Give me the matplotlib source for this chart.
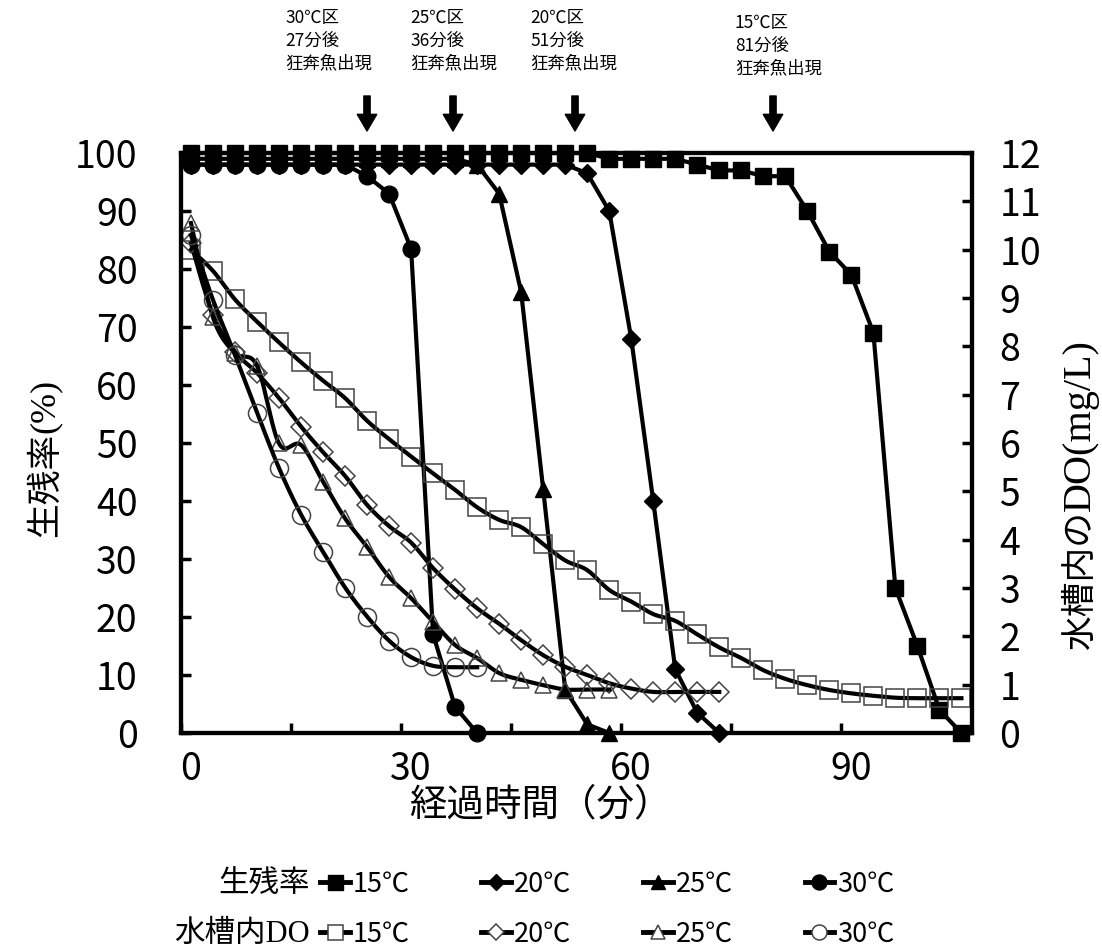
import numpy as np
import matplotlib
matplotlib.use("Agg")
import matplotlib.pyplot as plt
from matplotlib.lines import Line2D

plt.rcParams['font.family'] = ['Noto Sans CJK JP', 'DejaVu Sans']
mixed = ['Liberation Serif', 'Noto Sans CJK JP']

# 経過時間（分）
t15 = [0, 3, 6, 9, 12, 15, 18, 21, 24, 27, 30, 33, 36, 39, 42, 45, 48, 51,
       54, 57, 60, 63, 66, 69, 72, 75, 78, 81, 84, 87, 90, 93, 96, 99, 102, 105]
t20 = [0, 3, 6, 9, 12, 15, 18, 21, 24, 27, 30, 33, 36, 39, 42, 45, 48, 51,
       54, 57, 60, 63, 66, 69, 72]
t25 = [0, 3, 6, 9, 12, 15, 18, 21, 24, 27, 30, 33, 36, 39, 42, 45, 48, 51, 54, 57]
t30 = [0, 3, 6, 9, 12, 15, 18, 21, 24, 27, 30, 33, 36, 39]

# 生残率 (%)
surv15 = [100, 100, 100, 100, 100, 100, 100, 100, 100, 100, 100, 100, 100, 100,
          100, 100, 100, 100, 100, 99, 99, 99, 99, 98, 97, 97, 96, 96, 90, 83,
          79, 69, 25, 15, 4, 0]
surv20 = [98, 98, 98, 98, 98, 98, 98, 98, 98, 98, 98, 98, 98, 98, 98, 98, 98, 98,
          96.5, 90, 68, 40, 11, 3.5, 0]
surv25 = [99, 99, 99, 99, 99, 99, 99, 99, 99, 99, 99, 99, 99, 98, 93, 76, 42, 7.5, 1.5, 0]
surv30 = [98, 98, 98, 98, 98, 98, 98, 98, 96, 93, 83.5, 17, 4.5, 0]

# 水槽内DO (mg/L)
do15 = [10.0, 9.56, 8.97, 8.51, 8.08, 7.67, 7.29, 6.93, 6.46, 6.08, 5.72, 5.37,
        5.03, 4.67, 4.41, 4.26, 3.91, 3.57, 3.37, 2.96, 2.72, 2.46, 2.32, 2.04,
        1.77, 1.55, 1.30, 1.12, 0.99, 0.89, 0.82, 0.77, 0.73, 0.72, 0.72, 0.72]
do20 = [10.13, 8.65, 7.89, 7.45, 6.93, 6.34, 5.81, 5.32, 4.72, 4.28, 3.94, 3.41,
        2.97, 2.58, 2.26, 1.92, 1.61, 1.37, 1.20, 1.03, 0.92, 0.85, 0.85, 0.85, 0.85]
do25 = [10.55, 8.6, 7.86, 7.6, 5.99, 5.96, 5.20, 4.44, 3.85, 3.23, 2.79, 2.30,
        1.82, 1.55, 1.24, 1.10, 0.99, 0.90, 0.90, 0.90]
do30 = [10.30, 8.96, 7.82, 6.63, 5.48, 4.52, 3.75, 3.01, 2.41, 1.91, 1.57, 1.39, 1.36, 1.36]

temps = ['15℃', '20℃', '25℃', '30℃']
notes = [('30℃区', '27分後'), ('25℃区', '36分後'), ('20℃区', '51分後'), ('15℃区', '81分後')]


# Excel風のスムージング（ベジェ曲線）
def smooth(x, y, n=16):
    pts = np.column_stack([x, y]).astype(float)
    P = np.vstack([pts[0], pts, pts[-1]])
    s = np.linspace(0, 1, n, endpoint=False)[:, None]
    out = []
    for i in range(1, len(P) - 2):
        p0, p1, p2, p3 = P[i - 1], P[i], P[i + 1], P[i + 2]
        c1 = p1 + (p2 - p0) / 6
        c2 = p2 - (p3 - p1) / 6
        out.append((1 - s) ** 3 * p1 + 3 * (1 - s) ** 2 * s * c1
                   + 3 * (1 - s) * s ** 2 * c2 + s ** 3 * p2)
    out.append(pts[-1:])
    return np.vstack(out)


fig = plt.figure(figsize=(11.02, 9.51), dpi=100)
ax = fig.add_axes([180.7 / 1102, 1 - 733 / 951, 791 / 1102, 580 / 951])
ax2 = ax.twinx()

markers = ['s', 'D', '^', 'o']
msize = [12, 9, 11, 12]

surv_handles = []
for t, v, m, ms in zip([t15, t20, t25, t30], [surv15, surv20, surv25, surv30], markers, msize):
    ax.plot(t, v, color='black', lw=3, marker=m, ms=ms, mfc='black', mec='black', clip_on=False)
    surv_handles.append(Line2D([], [], color='black', lw=3.5, marker=m, ms=ms * 0.9, mfc='black', mec='black'))

do_handles = []
for t, v, m, ms in zip([t15, t20, t25, t30], [do15, do20, do25, do30], markers, msize):
    c = smooth(t, v)
    ax2.plot(c[:, 0], c[:, 1], color='black', lw=3)
    ax2.plot(t, v, ls='none', marker=m, ms=ms + 1, mfc='none', mec='#444444', mew=1.1)
    do_handles.append(Line2D([], [], color='black', lw=3.5, marker=m, ms=ms * 0.9,
                             mfc='white', mec='#444444', mew=1.1))

ax.set_xlim(-1.4, 106.4)
ax.set_ylim(0, 100)
ax2.set_ylim(0, 12)

ax.set_xticks([-1.4, 13.6, 28.6, 43.6, 58.6, 73.6, 88.6])
ax.set_xticklabels([])
ax.set_xticks([0, 30, 60, 90], minor=True)
ax.set_xticklabels(['0', '30', '60', '90'], minor=True)
ax.tick_params(axis='x', which='minor', length=0, pad=12, labelsize=27)
ax.tick_params(axis='x', which='major', direction='in', length=7, width=2.5)

ax.set_yticks(range(0, 101, 10))
ax.tick_params(axis='y', direction='in', length=7, width=2.5, pad=31, labelsize=27)
ax2.set_yticks(range(0, 13))
ax2.tick_params(axis='y', direction='in', length=7, width=2.5, pad=20, labelsize=27)

for a in (ax, ax2):
    for sp in a.spines.values():
        sp.set_linewidth(3)

# 軸ラベル
fig.text(540 / 1102, 1 - 805 / 951, '経過時間（分）', ha='center', va='center', fontsize=27)

yl1 = fig.text(45 / 1102, 1 - 537 / 951, '生残率', ha='center', va='bottom', rotation=90, fontsize=25)
ax.annotate('(%)', xy=(0.5, 1), xycoords=yl1, ha='center', va='bottom', rotation=90,
            fontsize=26, family=mixed, annotation_clip=False)
yl2 = fig.text(1080 / 1102, 1 - 650 / 951, '水槽内の', ha='center', va='bottom', rotation=90, fontsize=25)
ax.annotate('DO(mg/L)', xy=(0.5, 1), xycoords=yl2, ha='center', va='bottom', rotation=90,
            fontsize=29, family=mixed, annotation_clip=False)

# 狂奔魚出現の注記と矢印
note_x = [285, 410, 530, 735]
note_dy = [0, 0, 0, 5]
arrow_x = [367, 453, 575, 773]
for (a, b), nx, dy, axx in zip(notes, note_x, note_dy, arrow_x):
    for line, yy in zip([a, b, '狂奔魚出現'], [18, 41, 63]):
        fig.text(nx / 1102, 1 - (yy + dy) / 951, line, ha='left', va='center', fontsize=12.5)
    ax.annotate('', xy=(axx / 1102, 1 - 131 / 951), xytext=(axx / 1102, 1 - 96 / 951),
                xycoords='figure fraction', textcoords='figure fraction',
                arrowprops=dict(facecolor='black', edgecolor='black', width=4.5,
                                headwidth=14, headlength=12, shrink=0))

# 凡例
fig.text(310 / 1102, 1 - 884 / 951, '生残率', ha='right', va='center', fontsize=22)
fig.text(310 / 1102, 1 - 934 / 951, '水槽内DO', ha='right', va='center', fontsize=22, family=mixed)
fig.legend(surv_handles, temps, ncol=4, loc='center left', bbox_to_anchor=(320 / 1102, 1 - 884 / 951),
           frameon=False, fontsize=19.5, handlelength=1.1, handletextpad=0.1, columnspacing=2.65,
           borderpad=0, borderaxespad=0)
fig.legend(do_handles, temps, ncol=4, loc='center left', bbox_to_anchor=(320 / 1102, 1 - 934 / 951),
           frameon=False, fontsize=19.5, handlelength=1.1, handletextpad=0.1, columnspacing=2.65,
           borderpad=0, borderaxespad=0)

fig.savefig('out.png', dpi=100)
